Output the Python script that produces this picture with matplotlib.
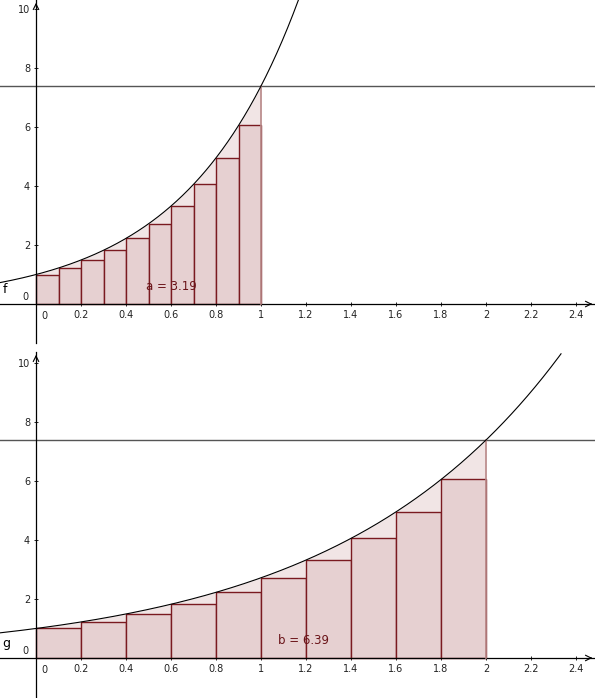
import numpy as np
import matplotlib
matplotlib.use("Agg")
import matplotlib.pyplot as plt

# lower sum rectangles
top_left = [0.0, 0.1, 0.2, 0.3, 0.4, 0.5, 0.6, 0.7, 0.8, 0.9]
top_heights = [1.0, 1.22, 1.49, 1.82, 2.23, 2.72, 3.32, 4.06, 4.95, 6.05]
bot_left = [0.0, 0.2, 0.4, 0.6, 0.8, 1.0, 1.2, 1.4, 1.6, 1.8]
bot_heights = [1.0, 1.22, 1.49, 1.82, 2.23, 2.72, 3.32, 4.06, 4.95, 6.05]
hline_y = 7.39
x_ticks = [0.2, 0.4, 0.6, 0.8, 1, 1.2, 1.4, 1.6, 1.8, 2, 2.2, 2.4]
x_tick_labels = ["0.2", "0.4", "0.6", "0.8", "1", "1.2", "1.4", "1.6", "1.8", "2", "2.2", "2.4"]
y_ticks = [2, 4, 6, 8, 10]

RECT_FACE = "#e6d0d1"
RECT_EDGE = "#7a1a20"
AREA_FACE = "#f1e5e5"
AREA_EDGE = "#b88888"
TEXT_RED = "#6a1318"


def f(x):
    return np.exp(2 * x)


def g(x):
    return np.exp(x)


def setup(ax, ylim):
    ax.set_xlim(-0.16, 2.484)
    ax.set_ylim(*ylim)
    for s in ["top", "right"]:
        ax.spines[s].set_visible(False)
    ax.spines["left"].set_position(("data", 0))
    ax.spines["bottom"].set_position(("data", 0))
    ax.spines["left"].set_linewidth(0.9)
    ax.spines["bottom"].set_linewidth(0.9)
    ax.set_xticks(x_ticks)
    ax.set_xticklabels(x_tick_labels)
    ax.set_yticks(y_ticks)
    ax.tick_params(axis="both", labelsize=7, length=2.5, width=0.7,
                   direction="inout", colors="#222222", pad=3)
    ax.text(0.036, -0.25, "0", fontsize=7, ha="center", va="top", color="#222222")
    ax.text(-0.035, 0.08, "0", fontsize=7, ha="right", va="bottom", color="#222222")
    # arrow heads on the axes
    ax.annotate("", xy=(2.484, 0), xytext=(2.45, 0),
                arrowprops=dict(arrowstyle="->", lw=0.8, color="black"))
    ax.annotate("", xy=(0, ylim[1]), xytext=(0, ylim[1] - 0.3),
                arrowprops=dict(arrowstyle="->", lw=0.8, color="black"))
    ax.axhline(hline_y, color="#555555", lw=1)


def draw(ax, func, lefts, heights, width, end, xmax, label, name, value, vx):
    xs = np.linspace(0, end, 300)
    ax.fill_between(xs, 0, func(xs), color=AREA_FACE, lw=0, zorder=1)
    ax.bar(lefts, heights, width=width, align="edge", color=RECT_FACE,
           edgecolor=RECT_EDGE, lw=1.0, zorder=2)
    ax.plot([end, end], [0, func(end)], color=AREA_EDGE, lw=1.2, zorder=3)
    xc = np.linspace(-0.16, xmax, 500)
    ax.plot(xc, func(xc), color="black", lw=0.8, zorder=4)
    ax.text(-0.15, 0.5, name, fontsize=9, ha="left", va="center", color="black")
    ax.text(vx, 0.6, "%s = %s" % (label, value), fontsize=8.5, ha="center",
            va="center", color=TEXT_RED, zorder=5)


fig = plt.figure(figsize=(5.95, 6.98), dpi=100)
ax1 = fig.add_axes([0, 1 - 343 / 698, 1, 343 / 698])
ax2 = fig.add_axes([0, 0, 1, 346 / 698])

setup(ax1, (-1.32, 10.3))
draw(ax1, f, top_left, top_heights, 0.1, 1.0, 1.18, "a", "f", "3.19", 0.6)

setup(ax2, (-1.356, 10.37))
draw(ax2, g, bot_left, bot_heights, 0.2, 2.0, 2.333, "b", "g", "6.39", 1.19)

fig.savefig("out.png", dpi=100)
